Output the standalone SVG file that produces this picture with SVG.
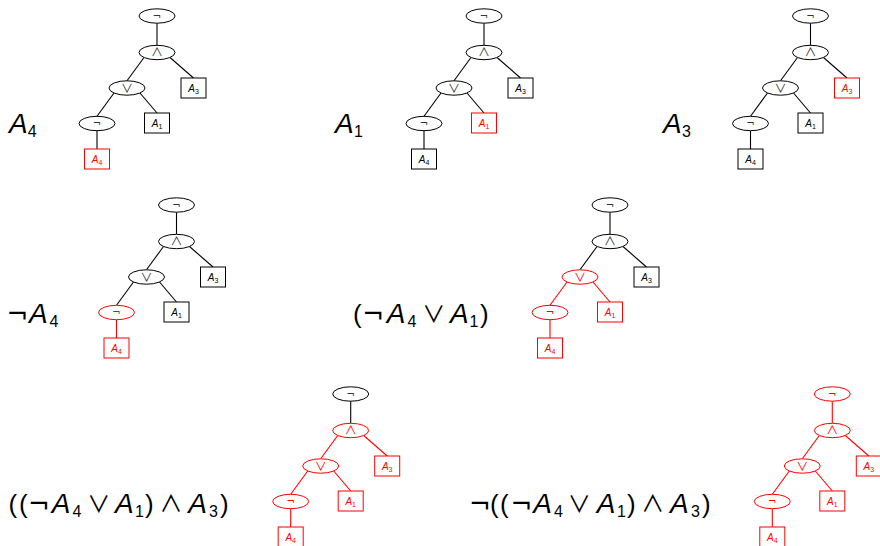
<svg xmlns="http://www.w3.org/2000/svg" width="880" height="546" viewBox="0 0 880 546">
<defs>
<style>
.bg{fill:#fff}
.e{fill:#fff;stroke:#000;stroke-width:1}
.b{fill:#fff;stroke:#000;stroke-width:1}
.red .e,.red .b{stroke:#f00}
.op{font-family:"Noto Sans CJK JP","DejaVu Sans",sans-serif;font-size:12px;fill:#333;text-anchor:middle}
.neg{font-family:"DejaVu Sans",sans-serif;font-size:10px}
.lab{font-family:"Liberation Sans","DejaVu Sans",sans-serif;font-size:10px;fill:#000;text-anchor:middle}
.lab .i{font-style:italic}
.lab .s{font-size:7px}
.red .op,.red .lab{fill:#f00}
.ln{stroke:#000;stroke-width:1.1;fill:none}
.lr{stroke:#f00;stroke-width:1.1;fill:none}
.f{font-family:"Liberation Sans","DejaVu Sans",sans-serif;font-size:26px;fill:#000}
.f .i{font-style:italic;font-size:28px}
.f .s{font-size:16px}
.f .n{font-family:"DejaVu Sans",sans-serif}
.f .m{font-family:"Noto Sans CJK JP","DejaVu Sans",sans-serif;font-size:23px}
</style>
</defs>
<rect class="bg" x="0" y="0" width="880" height="546"/>

<!-- connectors -->
<g id="connectors">
 <g transform="translate(157,16)">
  <line class="ln" x1="0" y1="7.2" x2="0" y2="29.3"/>
  <line class="ln" x1="-13" y1="41.5" x2="-30" y2="64.8"/>
  <line class="ln" x1="13" y1="41.5" x2="36.5" y2="62"/>
  <line class="ln" x1="-43" y1="77" x2="-60" y2="100.3"/>
  <line class="ln" x1="-17" y1="77" x2="0" y2="97"/>
  <line class="ln" x1="-60" y1="114.7" x2="-60" y2="133"/>
 </g>
 <g transform="translate(484,16)">
  <line class="ln" x1="0" y1="7.2" x2="0" y2="29.3"/>
  <line class="ln" x1="-13" y1="41.5" x2="-30" y2="64.8"/>
  <line class="ln" x1="13" y1="41.5" x2="36.5" y2="62"/>
  <line class="ln" x1="-43" y1="77" x2="-60" y2="100.3"/>
  <line class="ln" x1="-17" y1="77" x2="0" y2="97"/>
  <line class="ln" x1="-60" y1="114.7" x2="-60" y2="133"/>
 </g>
 <g transform="translate(810.5,16)">
  <line class="ln" x1="0" y1="7.2" x2="0" y2="29.3"/>
  <line class="ln" x1="-13" y1="41.5" x2="-30" y2="64.8"/>
  <line class="ln" x1="13" y1="41.5" x2="36.5" y2="62"/>
  <line class="ln" x1="-43" y1="77" x2="-60" y2="100.3"/>
  <line class="ln" x1="-17" y1="77" x2="0" y2="97"/>
  <line class="ln" x1="-60" y1="114.7" x2="-60" y2="133"/>
 </g>
 <g transform="translate(176.5,205)">
  <line class="ln" x1="0" y1="7.2" x2="0" y2="29.3"/>
  <line class="ln" x1="-13" y1="41.5" x2="-30" y2="64.8"/>
  <line class="ln" x1="13" y1="41.5" x2="36.5" y2="62"/>
  <line class="ln" x1="-43" y1="77" x2="-60" y2="100.3"/>
  <line class="ln" x1="-17" y1="77" x2="0" y2="97"/>
  <line class="lr" x1="-60" y1="114.7" x2="-60" y2="133"/>
 </g>
 <g transform="translate(610,205)">
  <line class="ln" x1="0" y1="7.2" x2="0" y2="29.3"/>
  <line class="ln" x1="-13" y1="41.5" x2="-30" y2="64.8"/>
  <line class="ln" x1="13" y1="41.5" x2="36.5" y2="62"/>
  <line class="lr" x1="-43" y1="77" x2="-60" y2="100.3"/>
  <line class="lr" x1="-17" y1="77" x2="0" y2="97"/>
  <line class="lr" x1="-60" y1="114.7" x2="-60" y2="133"/>
 </g>
 <g transform="translate(350.7,394)">
  <line class="ln" x1="0" y1="7.2" x2="0" y2="29.3"/>
  <line class="lr" x1="-13" y1="41.5" x2="-30" y2="64.8"/>
  <line class="lr" x1="13" y1="41.5" x2="36.5" y2="62"/>
  <line class="lr" x1="-43" y1="77" x2="-60" y2="100.3"/>
  <line class="lr" x1="-17" y1="77" x2="0" y2="97"/>
  <line class="lr" x1="-60" y1="114.7" x2="-60" y2="133"/>
 </g>
 <g transform="translate(832.3,394)">
  <line class="lr" x1="0" y1="7.2" x2="0" y2="29.3"/>
  <line class="lr" x1="-13" y1="41.5" x2="-30" y2="64.8"/>
  <line class="lr" x1="13" y1="41.5" x2="36.5" y2="62"/>
  <line class="lr" x1="-43" y1="77" x2="-60" y2="100.3"/>
  <line class="lr" x1="-17" y1="77" x2="0" y2="97"/>
  <line class="lr" x1="-60" y1="114.7" x2="-60" y2="133"/>
 </g>
</g>

<!-- tree 1 -->
<g transform="translate(157,16)">
 <g id="t1-not"><ellipse class="e" cx="0" cy="0" rx="18" ry="7.2"/><text class="op neg" x="0" y="3.5">¬</text></g>
 <g id="t1-and"><ellipse class="e" cx="0" cy="36.5" rx="18" ry="7.2"/><text class="op" x="0" y="41">∧</text></g>
 <g id="t1-or"><ellipse class="e" cx="-30" cy="72" rx="18" ry="7.2"/><text class="op" x="-30" y="76.5">∨</text></g>
 <g id="t1-A3"><rect class="b" x="24" y="62" width="25" height="20"/><text class="lab" x="36.5" y="75.5"><tspan class="i">A</tspan><tspan class="s" dy="2">3</tspan></text></g>
 <g id="t1-not2"><ellipse class="e" cx="-60" cy="107.5" rx="18" ry="7.2"/><text class="op neg" x="-60" y="111">¬</text></g>
 <g id="t1-A1"><rect class="b" x="-12.5" y="97" width="25" height="20"/><text class="lab" x="0" y="110.5"><tspan class="i">A</tspan><tspan class="s" dy="2">1</tspan></text></g>
 <g id="t1-A4" class="red"><rect class="b" x="-72.5" y="133" width="25" height="20"/><text class="lab" x="-60" y="146.5"><tspan class="i">A</tspan><tspan class="s" dy="2">4</tspan></text></g>
</g>

<!-- tree 2 -->
<g transform="translate(484,16)">
 <g id="t2-not"><ellipse class="e" cx="0" cy="0" rx="18" ry="7.2"/><text class="op neg" x="0" y="3.5">¬</text></g>
 <g id="t2-and"><ellipse class="e" cx="0" cy="36.5" rx="18" ry="7.2"/><text class="op" x="0" y="41">∧</text></g>
 <g id="t2-or"><ellipse class="e" cx="-30" cy="72" rx="18" ry="7.2"/><text class="op" x="-30" y="76.5">∨</text></g>
 <g id="t2-A3"><rect class="b" x="24" y="62" width="25" height="20"/><text class="lab" x="36.5" y="75.5"><tspan class="i">A</tspan><tspan class="s" dy="2">3</tspan></text></g>
 <g id="t2-not2"><ellipse class="e" cx="-60" cy="107.5" rx="18" ry="7.2"/><text class="op neg" x="-60" y="111">¬</text></g>
 <g id="t2-A1" class="red"><rect class="b" x="-12.5" y="97" width="25" height="20"/><text class="lab" x="0" y="110.5"><tspan class="i">A</tspan><tspan class="s" dy="2">1</tspan></text></g>
 <g id="t2-A4"><rect class="b" x="-72.5" y="133" width="25" height="20"/><text class="lab" x="-60" y="146.5"><tspan class="i">A</tspan><tspan class="s" dy="2">4</tspan></text></g>
</g>

<!-- tree 3 -->
<g transform="translate(810.5,16)">
 <g id="t3-not"><ellipse class="e" cx="0" cy="0" rx="18" ry="7.2"/><text class="op neg" x="0" y="3.5">¬</text></g>
 <g id="t3-and"><ellipse class="e" cx="0" cy="36.5" rx="18" ry="7.2"/><text class="op" x="0" y="41">∧</text></g>
 <g id="t3-or"><ellipse class="e" cx="-30" cy="72" rx="18" ry="7.2"/><text class="op" x="-30" y="76.5">∨</text></g>
 <g id="t3-A3" class="red"><rect class="b" x="24" y="62" width="25" height="20"/><text class="lab" x="36.5" y="75.5"><tspan class="i">A</tspan><tspan class="s" dy="2">3</tspan></text></g>
 <g id="t3-not2"><ellipse class="e" cx="-60" cy="107.5" rx="18" ry="7.2"/><text class="op neg" x="-60" y="111">¬</text></g>
 <g id="t3-A1"><rect class="b" x="-12.5" y="97" width="25" height="20"/><text class="lab" x="0" y="110.5"><tspan class="i">A</tspan><tspan class="s" dy="2">1</tspan></text></g>
 <g id="t3-A4"><rect class="b" x="-72.5" y="133" width="25" height="20"/><text class="lab" x="-60" y="146.5"><tspan class="i">A</tspan><tspan class="s" dy="2">4</tspan></text></g>
</g>

<!-- tree 4 -->
<g transform="translate(176.5,205)">
 <g id="t4-not"><ellipse class="e" cx="0" cy="0" rx="18" ry="7.2"/><text class="op neg" x="0" y="3.5">¬</text></g>
 <g id="t4-and"><ellipse class="e" cx="0" cy="36.5" rx="18" ry="7.2"/><text class="op" x="0" y="41">∧</text></g>
 <g id="t4-or"><ellipse class="e" cx="-30" cy="72" rx="18" ry="7.2"/><text class="op" x="-30" y="76.5">∨</text></g>
 <g id="t4-A3"><rect class="b" x="24" y="62" width="25" height="20"/><text class="lab" x="36.5" y="75.5"><tspan class="i">A</tspan><tspan class="s" dy="2">3</tspan></text></g>
 <g id="t4-not2" class="red"><ellipse class="e" cx="-60" cy="107.5" rx="18" ry="7.2"/><text class="op neg" x="-60" y="111">¬</text></g>
 <g id="t4-A1"><rect class="b" x="-12.5" y="97" width="25" height="20"/><text class="lab" x="0" y="110.5"><tspan class="i">A</tspan><tspan class="s" dy="2">1</tspan></text></g>
 <g id="t4-A4" class="red"><rect class="b" x="-72.5" y="133" width="25" height="20"/><text class="lab" x="-60" y="146.5"><tspan class="i">A</tspan><tspan class="s" dy="2">4</tspan></text></g>
</g>

<!-- tree 5 -->
<g transform="translate(610,205)">
 <g id="t5-not"><ellipse class="e" cx="0" cy="0" rx="18" ry="7.2"/><text class="op neg" x="0" y="3.5">¬</text></g>
 <g id="t5-and"><ellipse class="e" cx="0" cy="36.5" rx="18" ry="7.2"/><text class="op" x="0" y="41">∧</text></g>
 <g id="t5-or" class="red"><ellipse class="e" cx="-30" cy="72" rx="18" ry="7.2"/><text class="op" x="-30" y="76.5">∨</text></g>
 <g id="t5-A3"><rect class="b" x="24" y="62" width="25" height="20"/><text class="lab" x="36.5" y="75.5"><tspan class="i">A</tspan><tspan class="s" dy="2">3</tspan></text></g>
 <g id="t5-not2" class="red"><ellipse class="e" cx="-60" cy="107.5" rx="18" ry="7.2"/><text class="op neg" x="-60" y="111">¬</text></g>
 <g id="t5-A1" class="red"><rect class="b" x="-12.5" y="97" width="25" height="20"/><text class="lab" x="0" y="110.5"><tspan class="i">A</tspan><tspan class="s" dy="2">1</tspan></text></g>
 <g id="t5-A4" class="red"><rect class="b" x="-72.5" y="133" width="25" height="20"/><text class="lab" x="-60" y="146.5"><tspan class="i">A</tspan><tspan class="s" dy="2">4</tspan></text></g>
</g>

<!-- tree 6 -->
<g transform="translate(350.7,394)">
 <g id="t6-not"><ellipse class="e" cx="0" cy="0" rx="18" ry="7.2"/><text class="op neg" x="0" y="3.5">¬</text></g>
 <g id="t6-and" class="red"><ellipse class="e" cx="0" cy="36.5" rx="18" ry="7.2"/><text class="op" x="0" y="41">∧</text></g>
 <g id="t6-or" class="red"><ellipse class="e" cx="-30" cy="72" rx="18" ry="7.2"/><text class="op" x="-30" y="76.5">∨</text></g>
 <g id="t6-A3" class="red"><rect class="b" x="24" y="62" width="25" height="20"/><text class="lab" x="36.5" y="75.5"><tspan class="i">A</tspan><tspan class="s" dy="2">3</tspan></text></g>
 <g id="t6-not2" class="red"><ellipse class="e" cx="-60" cy="107.5" rx="18" ry="7.2"/><text class="op neg" x="-60" y="111">¬</text></g>
 <g id="t6-A1" class="red"><rect class="b" x="-12.5" y="97" width="25" height="20"/><text class="lab" x="0" y="110.5"><tspan class="i">A</tspan><tspan class="s" dy="2">1</tspan></text></g>
 <g id="t6-A4" class="red"><rect class="b" x="-72.5" y="133" width="25" height="20"/><text class="lab" x="-60" y="146.5"><tspan class="i">A</tspan><tspan class="s" dy="2">4</tspan></text></g>
</g>

<!-- tree 7 -->
<g transform="translate(832.3,394)">
 <g id="t7-not" class="red"><ellipse class="e" cx="0" cy="0" rx="18" ry="7.2"/><text class="op neg" x="0" y="3.5">¬</text></g>
 <g id="t7-and" class="red"><ellipse class="e" cx="0" cy="36.5" rx="18" ry="7.2"/><text class="op" x="0" y="41">∧</text></g>
 <g id="t7-or" class="red"><ellipse class="e" cx="-30" cy="72" rx="18" ry="7.2"/><text class="op" x="-30" y="76.5">∨</text></g>
 <g id="t7-A3" class="red"><rect class="b" x="24" y="62" width="25" height="20"/><text class="lab" x="36.5" y="75.5"><tspan class="i">A</tspan><tspan class="s" dy="2">3</tspan></text></g>
 <g id="t7-not2" class="red"><ellipse class="e" cx="-60" cy="107.5" rx="18" ry="7.2"/><text class="op neg" x="-60" y="111">¬</text></g>
 <g id="t7-A1" class="red"><rect class="b" x="-12.5" y="97" width="25" height="20"/><text class="lab" x="0" y="110.5"><tspan class="i">A</tspan><tspan class="s" dy="2">1</tspan></text></g>
 <g id="t7-A4" class="red"><rect class="b" x="-72.5" y="133" width="25" height="20"/><text class="lab" x="-60" y="146.5"><tspan class="i">A</tspan><tspan class="s" dy="2">4</tspan></text></g>
</g>

<!-- formulas -->
<g id="formulas">
 <text class="f"><tspan class="i" x="9" y="133.3">A</tspan><tspan class="s" x="27.8" y="137">4</tspan></text>
 <text class="f"><tspan class="i" x="335" y="133.3">A</tspan><tspan class="s" x="354" y="137">1</tspan></text>
 <text class="f"><tspan class="i" x="663" y="133.3">A</tspan><tspan class="s" x="682" y="137">3</tspan></text>

 <text class="f"><tspan class="n" x="6.5" y="323.3">¬</tspan><tspan class="i" x="29" y="323.3">A</tspan><tspan class="s" x="49.5" y="327">4</tspan></text>
 <text class="f"><tspan x="353" y="323.3">(</tspan><tspan class="n" x="362.2" y="323.3">¬</tspan><tspan class="i" x="386.7" y="323.3">A</tspan><tspan class="s" x="407.5" y="327">4</tspan><tspan class="m" x="422.2" y="322.2">∨</tspan><tspan class="i" x="450" y="323.3">A</tspan><tspan class="s" x="469.5" y="327">1</tspan><tspan x="480" y="323.3">)</tspan></text>

 <text class="f"><tspan x="8.5" y="513">(</tspan><tspan x="19" y="513">(</tspan><tspan class="n" x="27.9" y="513">¬</tspan><tspan class="i" x="51.7" y="513">A</tspan><tspan class="s" x="72.5" y="516.7">4</tspan><tspan class="m" x="87.2" y="511.9">∨</tspan><tspan class="i" x="115" y="513">A</tspan><tspan class="s" x="135" y="516.7">1</tspan><tspan x="145" y="513">)</tspan><tspan class="m" x="159.5" y="511.9">∧</tspan><tspan class="i" x="188.3" y="513">A</tspan><tspan class="s" x="209" y="516.7">3</tspan><tspan x="220" y="513">)</tspan></text>

 <text class="f"><tspan class="n" x="468.9" y="513">¬</tspan><tspan x="490" y="513">(</tspan><tspan x="500" y="513">(</tspan><tspan class="n" x="510.5" y="513">¬</tspan><tspan class="i" x="533.3" y="513">A</tspan><tspan class="s" x="554" y="516.7">4</tspan><tspan class="m" x="567.8" y="511.9">∨</tspan><tspan class="i" x="596.7" y="513">A</tspan><tspan class="s" x="617" y="516.7">1</tspan><tspan x="627" y="513">)</tspan><tspan class="m" x="641.2" y="511.9">∧</tspan><tspan class="i" x="670" y="513">A</tspan><tspan class="s" x="691" y="516.7">3</tspan><tspan x="702" y="513">)</tspan></text>
</g>
</svg>
